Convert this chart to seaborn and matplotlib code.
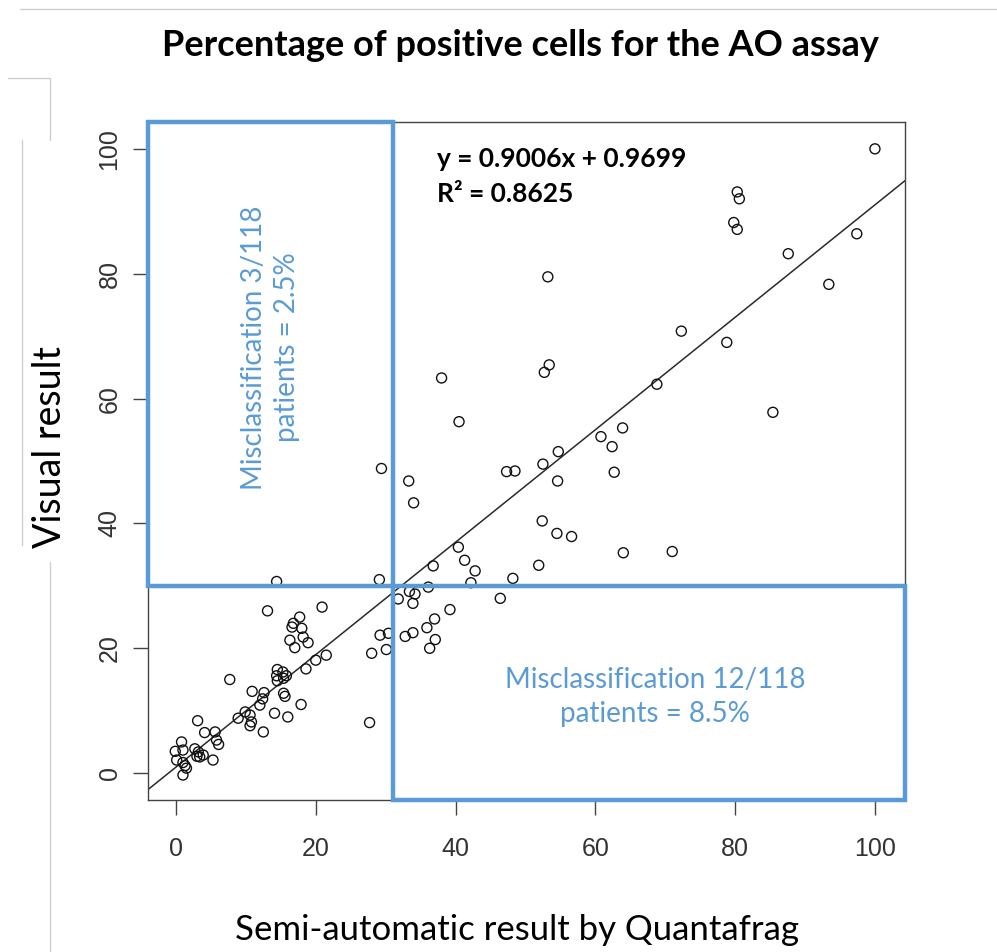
import matplotlib
matplotlib.use("Agg")
import matplotlib.pyplot as plt
import seaborn as sns
import pandas as pd
from matplotlib.patches import Rectangle
from matplotlib.lines import Line2D

# ---------------- data ----------------
semi_auto = [100.0, 80.3, 80.6, 79.8, 80.3, 97.4, 87.6, 93.4, 53.2, 72.3,
             78.8, 68.8, 52.7, 53.4, 85.4, 63.9, 60.8, 62.4, 62.7, 40.5,
             38.0, 54.7, 52.5, 29.4, 33.3, 34.0, 47.3, 48.5, 54.6, 52.4,
             54.5, 56.6, 64.0, 71.0, 40.4, 41.3, 42.8, 36.8, 42.2, 48.2,
             51.9, 29.1, 14.4, 36.1, 33.4, 34.2, 31.8, 33.9, 46.4, 39.2,
             37.0, 35.9, 33.9, 32.8, 37.1, 36.3, 30.4, 29.2, 30.1, 28.0,
             13.1, 20.9, 17.7, 16.8, 16.6, 18.0, 18.2, 16.3, 18.9, 17.0,
             21.5, 20.0, 18.6, 14.5, 15.3, 14.4, 15.8, 14.5, 15.4, 7.7,
             10.9, 12.6, 12.4, 12.0, 15.4, 15.6, 17.9, 9.9, 10.6, 10.8,
             10.6, 8.9, 14.1, 16.0, 12.5, 27.7, 3.1, 4.1, 5.6, 6.1,
             5.8, 5.3, 0.8, -0.1, 1.0, 0.1, 1.0, 1.5, 1.0, 1.3,
             2.7, 3.2, 3.4, 3.9, 3.0]
visual = [100.0, 93.1, 92.0, 88.2, 87.1, 86.4, 83.2, 78.3, 79.5, 70.8,
          69.0, 62.3, 64.2, 65.4, 57.8, 55.3, 53.9, 52.3, 48.2, 56.3,
          63.3, 51.5, 49.5, 48.8, 46.8, 43.3, 48.3, 48.4, 46.8, 40.4,
          38.4, 37.9, 35.3, 35.5, 36.2, 34.1, 32.4, 33.2, 30.5, 31.2,
          33.3, 31.0, 30.7, 29.8, 29.1, 28.7, 27.9, 27.2, 28.0, 26.2,
          24.7, 23.3, 22.5, 21.9, 21.4, 20.0, 22.4, 22.1, 19.8, 19.2,
          26.0, 26.6, 25.0, 24.0, 23.4, 23.2, 21.8, 21.3, 20.9, 20.1,
          18.9, 18.1, 16.7, 16.6, 16.2, 15.6, 15.6, 14.8, 15.2, 15.0,
          13.1, 12.9, 11.9, 10.9, 12.8, 12.3, 11.0, 9.8, 9.3, 8.2,
          7.6, 8.8, 9.6, 9.0, 6.6, 8.1, 8.4, 6.5, 6.6, 4.6,
          5.3, 2.1, 5.0, 3.5, 3.7, 2.1, 1.7, 0.8, -0.3, 1.2,
          3.9, 3.4, 2.6, 2.9, 2.7]

slope = 0.9006
intercept = 0.9699
r_squared = 0.8625
x_ticks = [0, 20, 40, 60, 80, 100]
y_ticks = [0, 20, 40, 60, 80, 100]
x_cut = 31
y_cut = 30
note_upper_left = "Misclassification 3/118\npatients = 2.5%"
note_lower_right = "Misclassification 12/118\npatients = 8.5%"
title = "Percentage of positive cells for the AO assay"
x_label = "Semi-automatic result by Quantafrag"
y_label = "Visual result"

# ---------------- styling ----------------
sns.set_theme(style="white")
plt.rcParams['font.family'] = ['Lato', 'DejaVu Sans']
BLUE = "#5b9bd5"
XMIN, XMAX, YMIN, YMAX = -4.0, 104.3, -4.3, 104.3

W, H = 997, 952
fig = plt.figure(figsize=(W / 100, H / 100), dpi=100)
fig.patch.set_facecolor("white")
ax = fig.add_axes([148 / W, 1 - 800 / H, (905 - 148) / W, (800 - 122) / H])

df = pd.DataFrame({"semi": semi_auto, "visual": visual})
sns.scatterplot(data=df, x="semi", y="visual", ax=ax, marker="o", s=52,
                facecolor="none", edgecolor="#111111", linewidth=1.0,
                legend=False, zorder=3)
ax.axline((0, intercept), slope=slope, color="#2a2a2a", lw=1.1, zorder=2)

ax.set_xlim(XMIN, XMAX)
ax.set_ylim(YMIN, YMAX)
ax.set_xticks(x_ticks)
ax.set_yticks(y_ticks)
ax.set_xticklabels([str(t) for t in x_ticks], fontfamily="Liberation Sans",
                   fontsize=18, color="#333333")
ax.set_yticklabels([str(t) for t in y_ticks], fontfamily="Liberation Sans",
                   fontsize=18, color="#333333", rotation=90, va="center")
ax.tick_params(axis="x", bottom=True, direction="out", length=11, width=1.0,
               color="#444444", pad=16)
ax.tick_params(axis="y", left=True, direction="out", length=11, width=1.0,
               color="#444444", pad=8)
for sp in ax.spines.values():
    sp.set_color("#444444")
    sp.set_linewidth(1.0)

# blue classification boxes
ax.add_patch(Rectangle((XMIN, y_cut), x_cut - XMIN, YMAX - y_cut, fill=False,
                       edgecolor=BLUE, lw=3.2, clip_on=False, zorder=5))
ax.add_patch(Rectangle((x_cut, YMIN), XMAX - x_cut, y_cut - YMIN, fill=False,
                       edgecolor=BLUE, lw=3.2, clip_on=False, zorder=5))

# annotations
ax.text(37.3, 98.3, f"y = {slope}x + {intercept}", fontweight="bold",
        fontsize=19, color="black", va="center", ha="left")
ax.text(37.3, 92.7, f"R² = {r_squared}", fontweight="bold",
        fontsize=19, color="black", va="center", ha="left")
ax.text(13.5, 68.2, note_upper_left, rotation=90, ha="center", va="center",
        multialignment="center", color=BLUE, fontsize=20, linespacing=1.35)
ax.text(68.5, 12.2, note_lower_right, ha="center", va="center",
        multialignment="center", color=BLUE, fontsize=20, linespacing=1.35)

ax.set_xlabel(x_label, fontsize=25, color="black")
ax.xaxis.set_label_coords((517 - 148) / 757, (800 - 930) / 678)
ax.xaxis.label.set_va("center")
ax.set_ylabel(y_label, fontsize=27, color="black")
ax.yaxis.set_label_coords((50 - 148) / 757, (800 - 447) / 678)
ax.yaxis.label.set_va("center")
ax.yaxis.label.set_ha("center")

fig.text(520 / W, 1 - 45 / H, title, fontweight="bold", fontsize=26,
         ha="center", va="center", color="black")

# faint frame lines from the original slide
def fig_line(x0, y0, x1, y1):
    fig.add_artist(Line2D([x0 / W, x1 / W], [1 - y0 / H, 1 - y1 / H],
                          transform=fig.transFigure, color="#cfcfcf", lw=1.0,
                          zorder=0))

fig_line(20, 9, W, 9)
fig_line(8, 78, 50, 78)
fig_line(50, 78, 50, 140)
fig_line(22, 140, 22, 545)
fig_line(50, 562, 50, H)

fig.savefig("out.png", dpi=100, facecolor="white")
